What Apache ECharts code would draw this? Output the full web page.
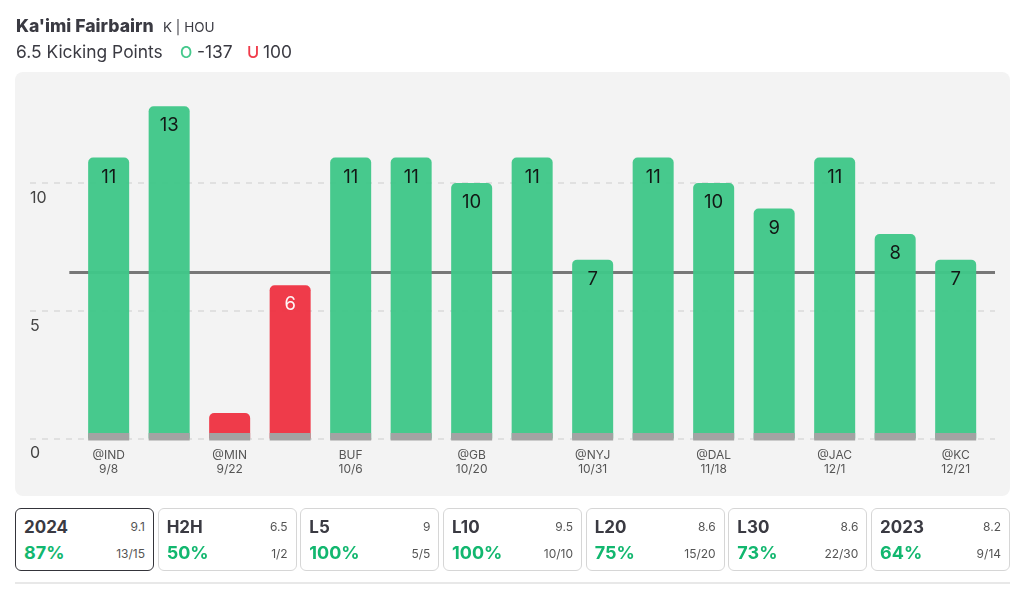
<!DOCTYPE html>
<html>
<head>
<meta charset="utf-8">
<script src="https://cdn.jsdelivr.net/npm/echarts@6/dist/echarts.min.js"></script>
<style>
	html, body { margin: 0; padding: 0; background: #fff; }
	body { width: 1024px; height: 595px; position: relative; overflow: hidden; font-family: Inter, "Noto Sans", sans-serif; color: #3a3a42; }
	.abs { position: absolute; white-space: nowrap; }
	#panel { position: absolute; left: 15px; top: 72px; width: 995px; height: 424px; background: #f3f3f3; border-radius: 8px; }
	#chart { position: absolute; left: 0; top: 0; width: 1024px; height: 595px; }
	#rule { position: absolute; left: 15px; top: 582px; width: 995px; height: 2px; background: #e8e8e8; }
	.card { position: absolute; top: 508px; width: 137px; height: 61px; border: 1.5px solid #d6d6d6; border-radius: 6px; background: #fff; }
	.card.on { border-color: #34343a; }
	.card div { position: absolute; white-space: nowrap; line-height: 20px; }
	.card .name { left: 8px; top: 8px; font-size: 17px; font-weight: 700; }
	.card .avg { right: 8px; top: 8px; font-size: 12px; color: #555; }
	.card .pct { left: 8px; top: 34px; font-size: 18px; font-weight: 700; color: #12b76f; }
	.card .rec { right: 8px; top: 35px; font-size: 12px; color: #555; }
</style>
</head>
<body>
<div id="panel"></div>
<div id="chart"></div>
<div class="abs" style="left:16px;top:15px;font-size:17.6px;font-weight:800;line-height:22px;">Ka'imi Fairbairn</div>
<div class="abs" style="left:163px;top:17px;font-size:13.5px;line-height:20px;">K | HOU</div>
<div class="abs" style="left:16px;top:41px;font-size:17.4px;line-height:22px;">6.5 Kicking Points</div>
<div class="abs" style="left:180px;top:41px;font-size:16px;font-weight:500;line-height:22px;color:#46c98d;">O</div>
<div class="abs" style="left:197px;top:41px;font-size:17.4px;line-height:22px;">-137</div>
<div class="abs" style="left:247px;top:41px;font-size:16.5px;font-weight:500;line-height:22px;color:#f03b4a;">U</div>
<div class="abs" style="left:263px;top:41px;font-size:17.4px;line-height:22px;">100</div>
<div id="cards"></div>
<div id="rule"></div>
<script>
	var games = ["@IND\n9/8", "", "@MIN\n9/22", "", "BUF\n10/6", "", "@GB\n10/20", "", "@NYJ\n10/31", "", "@DAL\n11/18", "", "@JAC\n12/1", "", "@KC\n12/21"];
	var points = [11, 13, 1, 6, 11, 11, 10, 11, 7, 11, 10, 9, 11, 8, 7];
	var lineValue = 6.5;

	var cardNames = ["2024", "H2H", "L5", "L10", "L20", "L30", "2023"];
	var cardAvgs = ["9.1", "6.5", "9", "9.5", "8.6", "8.6", "8.2"];
	var cardPcts = ["87%", "50%", "100%", "100%", "75%", "73%", "64%"];
	var cardRecs = ["13/15", "1/2", "5/5", "10/10", "15/20", "22/30", "9/14"];

	/* stat cards */
	var cardsBox = document.getElementById("cards");
	cardNames.forEach(function (name, i) {
		var card = document.createElement("div");
		card.className = i === 0 ? "card on" : "card";
		card.style.left = (15 + i * 142.67) + "px";
		card.innerHTML = '<div class="name">' + name + '</div><div class="avg">' + cardAvgs[i] +
			'</div><div class="pct">' + cardPcts[i] + '</div><div class="rec">' + cardRecs[i] + '</div>';
		cardsBox.appendChild(card);
	});

	/* bar chart */
	var green = "#3fc788";
	var red = "#ee3343";
	var barData = points.map(function (v, i) {
		return {
			value: [i, v],
			itemStyle: { color: v > lineValue ? green : red, opacity: 0.96 },
			label: { show: v > 1, color: v > lineValue ? "#111" : "#fff" }
		};
	});
	var xMin = -1.3;
	var xMax = 14.65;

	var chart = echarts.init(document.getElementById("chart"));
	chart.setOption({
		animation: false,
		grid: { left: 30, top: 55.25, width: 965, height: 383.25 },
		xAxis: {
			type: "value",
			min: xMin,
			max: xMax,
			splitLine: { show: false },
			axisLine: { show: false },
			axisTick: { show: false },
			axisLabel: {
				customValues: games.map(function (g, i) { return i; }),
				formatter: function (v) { return games[v] || ""; },
				fontSize: 12,
				lineHeight: 14,
				color: "#555",
				margin: 10,
				fontFamily: "Inter"
			}
		},
		yAxis: {
			type: "value",
			min: 0,
			max: 15,
			interval: 5,
			splitLine: { showMaxLine: false, lineStyle: { color: "#e0e0e0", width: 2, type: [6, 6] } },
			axisLine: { show: false },
			axisTick: { show: false },
			axisLabel: {
				inside: true,
				margin: 0,
				fontSize: 16,
				color: "#444",
				fontFamily: "Inter",
				verticalAlign: "top",
				padding: [7, 0, 0, 0],
				formatter: function (v) { return v === 15 ? "" : v; }
			}
		},
		series: [
			{
				type: "line",
				data: [],
				z: 1,
				silent: true,
				markLine: {
					silent: true,
					z: 1,
					symbol: "none",
					label: { show: false },
					lineStyle: { color: "#777", width: 3, type: "solid" },
					data: [[{ coord: [-0.65, lineValue] }, { coord: [xMax, lineValue] }]]
				}
			},
			{
				type: "bar",
				data: barData,
				barWidth: 41,
				z: 2,
				itemStyle: { borderRadius: [5, 5, 0, 0] },
				label: {
					position: "insideTop",
					distance: 10,
					fontSize: 18.5,
					fontFamily: "Inter"
				}
			},
			{
				/* grey foot under every bar */
				type: "custom",
				z: 3,
				silent: true,
				data: points.map(function (v, i) { return [i, 0]; }),
				renderItem: function (params, api) {
					var p = api.coord([api.value(0), 0]);
					return { type: "rect", shape: { x: p[0] - 20.5, y: p[1] - 5.5, width: 41, height: 7.5 }, style: { fill: "#a3a3a3" } };
				}
			}
		]
	});
</script>
</body>
</html>
